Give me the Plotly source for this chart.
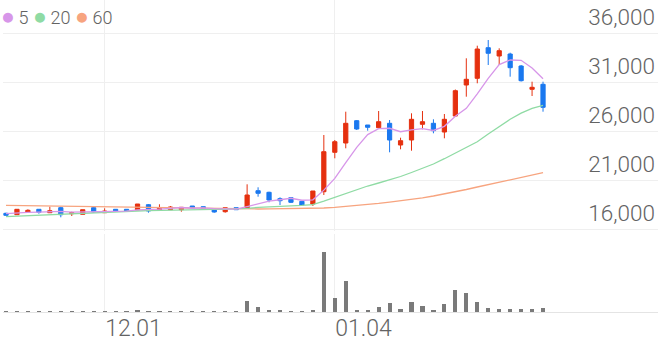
import plotly.graph_objects as go

dates = [
    "2020-11-18", "2020-11-19", "2020-11-20", "2020-11-23", "2020-11-24", "2020-11-25", "2020-11-26",
    "2020-11-27", "2020-11-30", "2020-12-01", "2020-12-02", "2020-12-03", "2020-12-04", "2020-12-07",
    "2020-12-08", "2020-12-09", "2020-12-10", "2020-12-11", "2020-12-14", "2020-12-15", "2020-12-16",
    "2020-12-17", "2020-12-18", "2020-12-21", "2020-12-22", "2020-12-23", "2020-12-24", "2020-12-28",
    "2020-12-29", "2020-12-30", "2021-01-04", "2021-01-05", "2021-01-06", "2021-01-07", "2021-01-08",
    "2021-01-11", "2021-01-12", "2021-01-13", "2021-01-14", "2021-01-15", "2021-01-18", "2021-01-19",
    "2021-01-20", "2021-01-21", "2021-01-22", "2021-01-25", "2021-01-26", "2021-01-27", "2021-01-28",
    "2021-01-29",
]

open_ = [17602, 17459, 17735, 18010, 17663, 18174, 17561, 17500, 18174, 17663,
         18010, 18010, 17939, 18480, 17908, 17969, 17969, 18347, 18276, 18041,
         17765, 18174, 18112, 19908, 19745, 19092, 19194, 18827, 18551, 19806,
         23826, 24775, 27051, 26612, 26337, 26786, 24571, 25082, 26684, 26786,
         25898, 27531, 30694, 31378, 34500, 33653, 33857, 32633, 30255, 30765]
high = [17663, 18010, 18010, 18010, 18276, 18276, 17765, 17969, 18245, 18112,
        18010, 18010, 18551, 18551, 18520, 18347, 18214, 18347, 18276, 18041,
        18174, 18174, 20561, 20255, 19806, 19235, 19265, 18827, 19878, 25592,
        25082, 27969, 27122, 26612, 28041, 27122, 25316, 27806, 28041, 27194,
        27735, 30235, 33418, 34704, 35286, 34439, 33990, 32735, 31031, 31031]
low = [17357, 17459, 17735, 17561, 17663, 17194, 17327, 17500, 17663, 17663,
       17806, 17735, 17939, 17663, 17908, 17969, 17765, 18071, 18041, 17663,
       17663, 17969, 18112, 19296, 18724, 18449, 18653, 18418, 18347, 19469,
       23214, 24235, 26102, 26031, 26337, 23827, 24133, 23990, 26173, 25765,
       25255, 27459, 29500, 30867, 32735, 32735, 31541, 31051, 29571, 27969]
close = [17398, 18010, 17908, 17704, 17867, 17459, 17663, 17969, 17735, 17837,
         17806, 17806, 18551, 17837, 18112, 18245, 18214, 18174, 18041, 17735,
         18174, 17969, 19469, 19643, 18959, 18888, 18724, 18449, 19878, 23888,
         24908, 26786, 26204, 26378, 26949, 25082, 25010, 27194, 26949, 26031,
         27194, 30112, 31276, 34367, 33929, 34194, 32459, 31133, 30459, 28418]

ma5 = [17560, 17650, 17700, 17730, 17777, 17790, 17720, 17732, 17739, 17733,
       17802, 17831, 17947, 17967, 18022, 18110, 18192, 18116, 18157, 18082,
       18068, 18019, 18278, 18598, 18843, 18986, 19137, 18933, 18980, 19965,
       21169, 22782, 24333, 25633, 26245, 26280, 25925, 26123, 26237, 26053,
       26476, 27496, 28312, 29796, 31376, 32776, 33245, 33216, 32435, 31326]
ma20 = [17255, 17306, 17367, 17429, 17490, 17551, 17602, 17653, 17694, 17735,
        17776, 17806, 17837, 17867, 17898, 17918, 17939, 17959, 17980, 18000,
        18010, 18031, 18112, 18204, 18276, 18327, 18367, 18408, 18490, 18837,
        19214, 19643, 20031, 20388, 20694, 21020, 21357, 21765, 22194, 22633,
        23173, 23724, 24265, 24898, 25694, 26480, 27194, 27816, 28306, 28622]
ma60 = [18418, 18398, 18388, 18367, 18347, 18327, 18316, 18296, 18276, 18255,
        18245, 18224, 18204, 18184, 18173, 18153, 18133, 18112, 18092, 18082,
        18061, 18041, 18041, 18041, 18051, 18061, 18071, 18082, 18102, 18143,
        18214, 18296, 18388, 18490, 18612, 18745, 18878, 19020, 19184, 19367,
        19571, 19796, 20031, 20286, 20541, 20796, 21051, 21286, 21520, 21745]

volume = [80, 90, 70, 80, 80, 100, 80, 80, 90, 80,
          70, 70, 140, 100, 80, 80, 80, 70, 70, 80,
          90, 80, 1130, 470, 170, 130, 100, 100, 230, 6070,
          1400, 3170, 230, 170, 470, 930, 300, 970, 600, 230,
          830, 2230, 1930, 970, 430, 330, 330, 270, 270, 430]

tick_dates = ["2020-12-01", "2021-01-04"]
tick_labels = ["12.01", "01.04"]
price_ticks = [16000, 21000, 26000, 31000, 36000]
ma_names = ["5", "20", "60"]

RED = "#e5300f"
BLUE = "#1a78ef"
MA_COLORS = ["#d796e9", "#8fdba4", "#f7a47f"]
GRID = "#efefef"
TEXT = "#636363"
FONT = "Roboto"

fig = go.Figure()

ma_series = [ma5, ma20, ma60]
for k in [2, 1, 0]:
    fig.add_trace(go.Scatter(x=dates, y=ma_series[k], mode="lines", name=ma_names[k],
                             line=dict(color=MA_COLORS[k], width=1.3), showlegend=False,
                             xaxis="x", yaxis="y"))

fig.add_trace(go.Candlestick(
    x=dates, open=open_, high=high, low=low, close=close,
    increasing=dict(line=dict(color=RED, width=1), fillcolor=RED),
    decreasing=dict(line=dict(color=BLUE, width=1), fillcolor=BLUE),
    whiskerwidth=0, showlegend=False, xaxis="x", yaxis="y", name="price",
))

fig.add_trace(go.Bar(x=dates, y=volume, marker=dict(color="#7a7a7a", line=dict(width=0)),
                     width=0.38, showlegend=False, xaxis="x", yaxis="y2", name="volume"))

legend_parts = []
for name, col in zip(ma_names, MA_COLORS):
    legend_parts.append(f"<span style='color:{col};font-size:23px'>●</span>\u2009{name}")
fig.add_annotation(
    text=" ".join(legend_parts),
    xref="paper", yref="paper", x=-0.006, y=0.947, xanchor="left", yanchor="middle",
    showarrow=False, font=dict(family=FONT, size=18, color=TEXT, weight=300), align="left",
)

fig.update_layout(
    width=658, height=342,
    margin=dict(l=3, r=0, t=0, b=30),
    paper_bgcolor="white", plot_bgcolor="white",
    template="none",
    showlegend=False,
    boxgap=0.45,
    bargap=0,
    font=dict(family=FONT, color=TEXT),
    xaxis=dict(
        type="category", categoryorder="array", categoryarray=dates,
        range=[-0.274, 59.49], rangeslider=dict(visible=False),
        anchor="y2",
        showgrid=True, gridcolor=GRID, gridwidth=1,
        tickmode="array", tickvals=tick_dates, ticktext=tick_labels,
        ticklabelposition="outside right", ticklabelstandoff=-5,
        ticks="", showline=True, linecolor="#e4e4e4", linewidth=1,
        zeroline=False, automargin=False,
        tickfont=dict(family=FONT, size=23, color=TEXT, weight=300),
    ),
    yaxis=dict(
        domain=[0.2596, 1.0], range=[15796, 39367],
        side="right", anchor="x",
        tickmode="array", tickvals=price_ticks, tickformat=",d",
        ticklabelposition="inside top",
        showgrid=True, gridcolor=GRID, gridwidth=1,
        zeroline=False, showline=False, ticks="", automargin=False,
        tickfont=dict(family=FONT, size=22.5, color=TEXT, weight=300),
    ),
    yaxis2=dict(
        domain=[0.0, 0.25], range=[0, 7850],
        anchor="x", showgrid=False, showticklabels=False, zeroline=False,
        ticks="", automargin=False,
    ),
)

fig.write_html("out.html")
